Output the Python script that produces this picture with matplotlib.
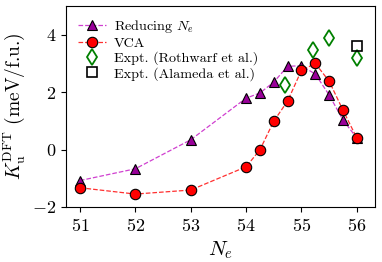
import numpy as np
import matplotlib
matplotlib.use("Agg")
import matplotlib.pyplot as plt

plt.rcParams['font.family'] = 'serif'
plt.rcParams['font.serif'] = ['cmr10', 'DejaVu Serif']
plt.rcParams['mathtext.fontset'] = 'cm'
plt.rcParams['axes.formatter.use_mathtext'] = True

# data
ne = [51, 52, 53, 54, 54.25, 54.5, 54.75, 55, 55.25, 55.5, 55.75, 56]
k_reduce = [-1.08, -0.67, 0.34, 1.79, 1.97, 2.35, 2.9, 2.92, 2.63, 1.9, 1.03, 0.4]
k_vca = [-1.33, -1.55, -1.41, -0.6, -0.01, 0.99, 1.69, 2.76, 3.0, 2.38, 1.37, 0.4]
ne_roth = [54.7, 55.2, 55.5, 56.0]
k_roth = [2.25, 3.47, 3.88, 3.18]
ne_alam = [56.0]
k_alam = [3.6]

fig = plt.figure(figsize=(3.82, 2.62), dpi=100)
ax = fig.add_axes([0.173, 0.21, 0.809, 0.767])

ax.plot(ne, k_reduce, ls='--', lw=0.9, color='#d040d0', marker='^', ms=7.5,
        mfc='#990099', mec='black', mew=0.8, label=r'Reducing $N_e$')
ax.plot(ne, k_vca, ls='--', lw=0.9, color='#ff3030', marker='o', ms=7.5,
        mfc='red', mec='black', mew=0.8, label='VCA')
ax.plot(ne_roth, k_roth, ls='none', marker='d', ms=8.5, mfc='none',
        mec='green', mew=1.3, label='Expt. (Rothwarf et al.)')
ax.plot(ne_alam, k_alam, ls='none', marker='s', ms=6.5, mfc='none',
        mec='black', mew=1.2, label='Expt. (Alameda et al.)')

ax.set_xlim(50.75, 56.33)
ax.set_ylim(-2, 5)
ax.set_xticks([51, 52, 53, 54, 55, 56])
ax.set_yticks([-2, 0, 2, 4])
ax.tick_params(labelsize=13)
ax.set_xlabel(r'$N_e$', fontsize=15)
ax.set_ylabel(r'$K_{\rm u}^{\rm DFT}$ (meV/f.u.)', fontsize=14)

ax.legend(loc='upper left', frameon=False, fontsize=10.2, handlelength=2.0,
          borderaxespad=0.45, labelspacing=0.12, handletextpad=0.5)

fig.savefig('out.png', dpi=100)
